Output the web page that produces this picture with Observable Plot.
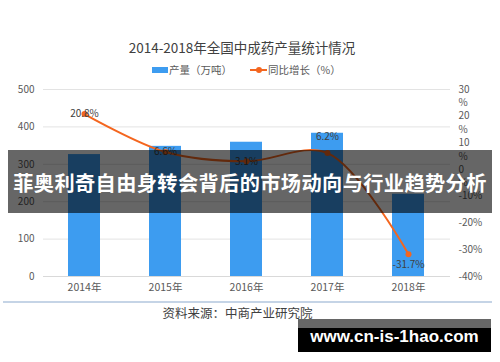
<!DOCTYPE html>
<html>
<head>
<meta charset="utf-8">
<script src="https://cdn.jsdelivr.net/npm/d3@7"></script>
<script src="https://cdn.jsdelivr.net/npm/@observablehq/plot@0.6"></script>
<style>
  html, body { margin: 0; padding: 0; background: #fff; }
  #wrap { position: relative; width: 500px; height: 362px; overflow: hidden; font-family: "Noto Sans CJK SC", "Noto Sans", sans-serif; }
  #chart { position: absolute; left: 0; top: 0; }
  .abs { position: absolute; white-space: nowrap; }
</style>
</head>
<body>
<div id="wrap">
  <div id="chart"></div>
  <div class="abs" id="title" style="left:0;width:484px;top:37px;text-align:center;font-size:13.5px;color:#404040;line-height:20px;"></div>
  <div class="abs" style="left:152px;top:67px;width:16px;height:6px;background:#3d9cf0;"></div>
  <div class="abs" id="leg1" style="left:169px;top:62px;font-size:10.5px;color:#595959;line-height:16px;"></div>
  <div class="abs" style="left:250px;top:69px;width:17px;height:2px;background:#f4661f;"></div>
  <div class="abs" style="left:256px;top:67px;width:6px;height:6px;border-radius:3px;background:#f4661f;"></div>
  <div class="abs" id="leg2" style="left:268px;top:62px;font-size:10.5px;color:#595959;line-height:16px;"></div>
  <div class="abs" style="left:3px;top:301px;width:489px;height:1.5px;background:#c5d4e6;"></div>
  <div class="abs" id="caption" style="left:0;width:475px;top:304px;text-align:center;font-size:12.5px;color:#404040;line-height:18px;"></div>
  <div class="abs" style="left:8px;top:150px;width:484px;height:63px;background:rgba(0,0,0,0.6);"></div>
  <div class="abs" id="banner" style="left:0;width:500px;top:169px;text-align:center;font-size:20.2px;letter-spacing:0.4px;font-weight:bold;color:#fff;line-height:28px;"></div>
  <div class="abs" style="left:298px;top:319px;width:193px;height:10px;background:#666;"></div>
  <div class="abs" style="left:298px;top:328px;width:193px;height:24px;background:#000;"></div>
  <div class="abs" id="wm" style="left:298px;width:193px;top:326px;text-align:center;font-family:'Liberation Sans',Arial,sans-serif;font-size:17px;font-weight:bold;color:#fff;line-height:22px;"></div>
</div>
<script>
// ---- data ----
const years = ["2014年", "2015年", "2016年", "2017年", "2018年"];
const output = [326, 348, 359, 383, 220];          // 产量（万吨）
const growth = [20.8, 6.6, 3.1, 6.2, -31.7];      // 同比增长（%）
const leftTicks = [0, 100, 200, 300, 400, 500];
const rightTicks = [-40, -30, -20, -10, 0, 10, 20, 30];
const titleText = "2014-2018年全国中成药产量统计情况";
const legendBar = "产量（万吨）";
const legendLine = "同比增长（%）";
const captionText = "资料来源：中商产业研究院";
const bannerText = "菲奥利奇自由身转会背后的市场动向与行业趋势分析";
const watermarkText = "www.cn-is-1hao.com";

document.getElementById("title").textContent = titleText;
document.getElementById("leg1").textContent = legendBar;
document.getElementById("leg2").textContent = legendLine;
document.getElementById("caption").textContent = captionText;
document.getElementById("banner").textContent = bannerText;
document.getElementById("wm").textContent = watermarkText;

// map right-axis percent onto left-axis units
const pMin = -40, pMax = 30, yMax = 500;
const toLeft = p => (p - pMin) / (pMax - pMin) * yMax;

const rows = years.map((y, i) => ({year: y, output: output[i], growth: growth[i], i}));
const n = rows.length;
const isMax = i => i > 0 && i < n - 1 && rows[i].growth > rows[i-1].growth && rows[i].growth > rows[i+1].growth;
const isLast = i => i === n - 1;
const fmtPct = p => p.toFixed(1) + "%";

const orange = "#f4661f";
const blue = "#3d9cf0";

const chart = Plot.plot({
  width: 500,
  height: 300,
  marginTop: 89,
  marginBottom: 24,
  marginLeft: 43,
  marginRight: 50,
  style: {background: "transparent", fontFamily: "'Noto Sans CJK SC', 'Noto Sans', sans-serif", fontSize: "10px", color: "#595959"},
  x: {type: "band", domain: years, paddingInner: 0.6, paddingOuter: 0.3, label: null},
  y: {domain: [0, yMax], label: null},
  marks: [
    Plot.gridY(leftTicks, {stroke: "#e3e3e3", strokeOpacity: 1}),
    Plot.ruleY([0], {stroke: "#d9d9d9"}),
    Plot.axisY({ticks: leftTicks, tickSize: 0, tickPadding: 9, label: null, fill: "#595959", fontSize: 10}),
    Plot.axisX({tickSize: 0, tickPadding: 7, label: null, fill: "#595959", fontSize: 10.5}),
    Plot.text(rightTicks, {
      frameAnchor: "right", y: d => toLeft(d),
      text: d => d >= 0 ? d + "\n%" : d + "%",
      textAnchor: "start", dx: 8, lineAnchor: "top", dy: -6.5, lineHeight: 1.35,
      fill: "#595959", fontSize: 10
    }),
    Plot.barY(rows, {x: "year", y: "output", fill: blue}),
    Plot.line(rows, {x: "year", y: d => toLeft(d.growth), stroke: orange, strokeWidth: 2, curve: "catmull-rom"}),
    Plot.dot(rows, {x: "year", y: d => toLeft(d.growth), r: 3, fill: orange}),
    Plot.text(rows.filter(d => !isMax(d.i) && !isLast(d.i)), {x: "year", y: d => toLeft(d.growth), text: d => fmtPct(d.growth), fill: "#404040", fontSize: 10}),
    Plot.text(rows.filter(d => isMax(d.i)), {x: "year", y: d => toLeft(d.growth), text: d => fmtPct(d.growth), fill: "#404040", fontSize: 10, dy: -16}),
    Plot.text(rows.filter(d => isLast(d.i)), {x: "year", y: d => toLeft(d.growth), text: d => fmtPct(d.growth), fill: "#404040", fontSize: 10, dy: 10})
  ]
});
document.getElementById("chart").appendChild(chart);
</script>
</body>
</html>
